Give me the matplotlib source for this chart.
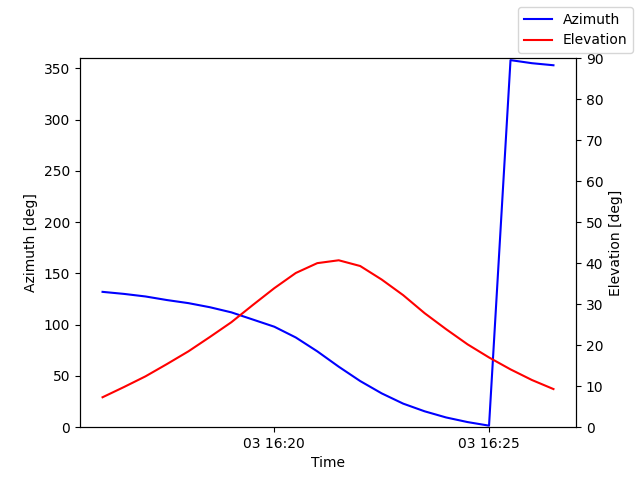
import matplotlib
matplotlib.use("Agg")
import matplotlib.pyplot as plt
import matplotlib.dates as mdates
import pandas as pd

times = pd.date_range("2024-01-03 16:16:00", periods=22, freq="30s")
azimuth = [132, 130, 127.5, 124, 121, 117, 112, 105, 98, 87.5, 74, 59, 45, 33,
           23, 15.5, 9.5, 5, 1.5, 358, 355, 353]
elevation = [7.3, 9.8, 12.4, 15.4, 18.5, 22, 25.6, 29.8, 33.9, 37.6, 40, 40.7,
             39.3, 36, 32.2, 27.8, 23.9, 20.2, 17, 14.1, 11.5, 9.3]

fig, ax1 = plt.subplots(figsize=(6.4, 4.8))
fig.subplots_adjust(left=0.125, right=0.9, top=0.879, bottom=0.11)
ax1.plot(times, azimuth, color="blue", label="Azimuth")
ax1.set_ylim(0, 360)
ax1.set_ylabel("Azimuth [deg]")
ax1.set_xlabel("Time")
ax2 = ax1.twinx()
ax2.plot(times, elevation, color="red", label="Elevation")
ax2.set_ylim(0, 90)
ax2.set_ylabel("Elevation [deg]")
ax1.xaxis.set_major_locator(mdates.MinuteLocator(byminute=[20, 25]))
ax1.xaxis.set_major_formatter(mdates.DateFormatter("%d %H:%M"))
fig.legend()
fig.savefig("out.png", dpi=100)
